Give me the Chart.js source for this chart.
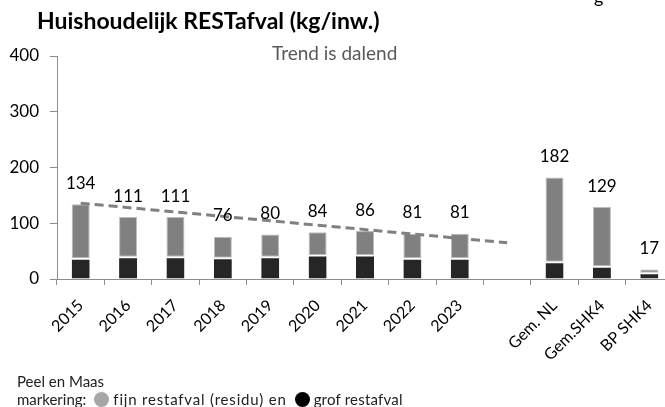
<!DOCTYPE html>
<html lang="nl">
<head>
<meta charset="UTF-8">
<title>Huishoudelijk RESTafval</title>
<script src="https://cdn.jsdelivr.net/npm/chart.js"></script>
<style>
    body {
        margin: 0;
        width: 665px;
        height: 407px;
        overflow: hidden;
        background: #fff;
        font-family: Lato, sans-serif;
        position: relative;
    }
    #wrap { position: absolute; left: 0; top: 0; width: 700px; height: 407px; }
    .title { position: absolute; left: 37px; top: 6px; font-weight: bold; font-size: 23px; color: #000; white-space: nowrap; }
    .trend { position: absolute; left: 272px; top: 41px; font-size: 19px; color: #595959; white-space: nowrap; }
    .cut { position: absolute; left: 594px; top: -15px; font-size: 18px; color: #000; }
    .note { position: absolute; left: 17px; font-size: 15px; color: #222; white-space: nowrap; }
    .dot { display: inline-block; width: 15px; height: 15px; border-radius: 50%; vertical-align: -2px; margin: 0 4px 0 8px; }
</style>
</head>
<body>
    <div id="wrap"><canvas id="chart" width="700" height="407"></canvas></div>
    <div class="title">Huishoudelijk RESTafval (kg/inw.)</div>
    <div class="trend">Trend is dalend</div>
    <div class="cut">g</div>
    <div class="note" style="top:372px;">Peel en Maas</div>
    <div class="note" style="top:390px;">markering:<span class="dot" style="background:#a6a6a6"></span><span style="letter-spacing:0.8px">fijn restafval (residu) en</span><span class="dot" style="background:#000"></span><span style="letter-spacing:0.2px">grof restafval</span></div>

<script>
    // values
    const labels = ['2015', '2016', '2017', '2018', '2019', '2020', '2021', '2022', '2023', '', 'Gem. NL', 'Gem.SHK4', 'BP SHK4'];
    const grof = [37, 40, 40, 38, 40, 43, 43, 37, 37, null, 31, 23, 11];
    const fijn = [97, 71, 71, 38, 40, 41, 43, 44, 44, null, 151, 106, 6];
    const totals = [134, 111, 111, 76, 80, 84, 86, 81, 81, null, 182, 129, 17];
    // trend line: only the two end points, drawn straight
    const trend = [136, null, null, null, null, null, null, null, null, 65, null, null, null];
    const yTicks = [0, 100, 200, 300, 400];

    const axisColor = '#8c8c8c';

    // total above each stacked bar
    const totalLabels = {
        id: 'totalLabels',
        afterDatasetsDraw(chart) {
            const meta = chart.getDatasetMeta(2);
            const ctx = chart.ctx;
            ctx.save();
            ctx.font = '17px Lato';
            ctx.fillStyle = '#000';
            ctx.textAlign = 'center';
            ctx.textBaseline = 'middle';
            meta.data.forEach((bar, i) => {
                if (totals[i] == null) return;
                ctx.fillText(totals[i], bar.x, bar.y - 21);
            });
            ctx.restore();
        }
    };

    new Chart(document.getElementById('chart'), {
        type: 'bar',
        data: {
            labels: labels,
            datasets: [
                {
                    type: 'line',
                    label: 'Trend',
                    data: trend,
                    stack: 'trend',
                    order: 0,
                    borderColor: '#808080',
                    borderWidth: 3,
                    borderDash: [9, 5],
                    pointRadius: 0,
                    spanGaps: true,
                    fill: false
                },
                {
                    label: 'grof restafval',
                    data: grof,
                    stack: 'afval',
                    order: 1,
                    backgroundColor: '#262626',
                    borderColor: '#ffffff',
                    borderWidth: { top: 1.5, left: 0, right: 0, bottom: 0 },
                    borderSkipped: false,
                    categoryPercentage: 1,
                    barPercentage: 0.38
                },
                {
                    label: 'fijn restafval (residu)',
                    data: fijn,
                    stack: 'afval',
                    order: 2,
                    backgroundColor: '#808080',
                    borderColor: '#bdbdbd',
                    borderWidth: 1,
                    borderSkipped: false,
                    categoryPercentage: 1,
                    barPercentage: 0.38
                }
            ]
        },
        options: {
            responsive: false,
            animation: false,
            layout: { padding: { top: 56, right: 27, bottom: 0, left: 0 } },
            plugins: {
                legend: { display: false },
                tooltip: { enabled: false }
            },
            scales: {
                x: {
                    stacked: true,
                    offset: true,
                    grid: { offset: true, drawOnChartArea: false, tickLength: 6, color: axisColor },
                    border: { color: axisColor },
                    ticks: {
                        minRotation: 45,
                        maxRotation: 45,
                        autoSkip: false,
                        padding: 11,
                        color: '#000',
                        font: { family: 'Lato', size: 16 }
                    },
                    afterFit: s => { s.height = 128; }
                },
                y: {
                    stacked: true,
                    min: 0,
                    max: 400,
                    afterBuildTicks: s => { s.ticks = yTicks.map(v => ({ value: v })); },
                    grid: { drawOnChartArea: false, tickLength: 7, color: axisColor },
                    border: { color: axisColor },
                    ticks: {
                        padding: 11,
                        color: '#000',
                        font: { family: 'Lato', size: 17 }
                    },
                    afterFit: s => { s.width = 57; }
                }
            }
        },
        plugins: [totalLabels]
    });
</script>
</body>
</html>
